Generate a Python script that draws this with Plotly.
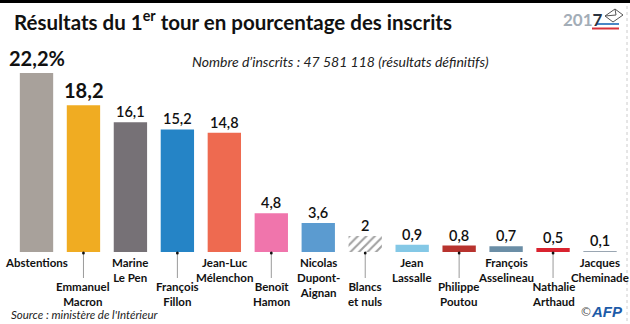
import plotly.graph_objects as go

# ---- data ----
candidates = ["Abstentions", "Emmanuel Macron", "Marine Le Pen", "François Fillon",
              "Jean-Luc Mélenchon", "Benoît Hamon", "Nicolas Dupont-Aignan",
              "Blancs et nuls", "Jean Lassalle", "Philippe Poutou",
              "François Asselineau", "Nathalie Arthaud", "Jacques Cheminade"]
label_lines = [["Abstentions"], ["Emmanuel", "Macron"], ["Marine", "Le Pen"],
               ["François", "Fillon"], ["Jean-Luc", "Mélenchon"], ["Benoît", "Hamon"],
               ["Nicolas", "Dupont-", "Aignan"], ["Blancs", "et nuls"], ["Jean", "Lassalle"],
               ["Philippe", "Poutou"], ["François", "Asselineau"], ["Nathalie", "Arthaud"],
               ["Jacques", "Cheminade"]]
values = [22.2, 18.2, 16.1, 15.2, 14.8, 4.8, 3.6, 2.0, 0.9, 0.8, 0.7, 0.5, 0.1]
value_labels = ["22,2%", "18,2", "16,1", "15,2", "14,8", "4,8", "3,6", "2",
                "0,9", "0,8", "0,7", "0,5", "0,1"]
colors = ["#a8a19b", "#f0ac22", "#767176", "#2584c6", "#ee6a50", "#f075ac", "#5b9bd0",
          "#ffffff", "#84c8e6", "#b8332e", "#6b8ea6", "#d9232f", "#9aa6b2"]
staggered = [False, True, False, True, False, True, False, True, False, True, False, True, False]

W, H = 630, 324
FONT = "Lato"

def py(p):
    return 1 - p / H

xs = list(range(len(values)))
patterns = ["/" if c == "Blancs et nuls" else "" for c in candidates]

fig = go.Figure()
fig.add_trace(go.Bar(
    x=xs, y=values, width=0.71,
    marker=dict(color=colors, line=dict(width=0),
                pattern=dict(shape=patterns, fgcolor="#a9b3bc", bgcolor="#ffffff",
                             size=6, solidity=0.35)),
    hoverinfo="skip",
))

ann = []
shapes = []

# value labels
for i, (v, lab) in enumerate(zip(values, value_labels)):
    big = i < 2
    ann.append(dict(x=i, y=v, xref="x", yref="y", text=lab, showarrow=False,
                    yanchor="bottom", yshift=1 if big else 0,
                    font=dict(family=FONT, size=20 if big else 14.5,
                              color="#111111", weight="bold" if big else 600)))

# category labels + leader lines
for i, lines in enumerate(label_lines):
    if staggered[i]:
        top = 278.5
        shapes.append(dict(type="line", xref="x", yref="paper", x0=i, x1=i,
                           y0=py(253), y1=py(278), line=dict(color="#9a9a9a", width=1)))
        shapes.append(dict(type="circle", xref="x", yref="paper",
                           x0=i - 0.03, x1=i + 0.03, y0=py(254.5), y1=py(251.5),
                           fillcolor="#111111", line=dict(width=0)))
    else:
        top = 255
    ann.append(dict(x=i, y=py(top), xref="x", yref="paper", text="<br>".join(lines),
                    showarrow=False, yanchor="top", borderpad=0,
                    font=dict(family=FONT, size=11.5, color="#111111", weight="bold")))

# title & subtitle
ann.append(dict(x=12 / W, y=py(20), xref="paper", yref="paper", xanchor="left",
                yanchor="middle", showarrow=False,
                text="Résultats du 1<sup style='font-size:70%'>er</sup> tour en pourcentage des inscrits",
                font=dict(family=FONT, size=20.5, color="#111111", weight="bold")))
ann.append(dict(x=340 / W, y=py(62), xref="paper", yref="paper", xanchor="center",
                yanchor="middle", showarrow=False,
                text="<i>Nombre d’inscrits : 47 581 118 (résultats définitifs)</i>",
                font=dict(family=FONT, size=14, color="#222222")))
ann.append(dict(x=10 / W, y=py(314.5), xref="paper", yref="paper", xanchor="left",
                yanchor="middle", showarrow=False, borderpad=0,
                text="<i>Source : ministère de l'Intérieur</i>",
                font=dict(family=FONT, size=11.5, color="#222222")))
# 2017 logo
ann.append(dict(x=561 / W, y=py(19), xref="paper", yref="paper", xanchor="left",
                yanchor="middle", showarrow=False,
                text="<span style='color:#a3adb7'>201</span><span style='color:#2b3440'>7</span>",
                font=dict(family=FONT, size=17, weight="bold")))
shapes.append(dict(type="line", xref="paper", yref="paper", x0=596 / W, x1=619 / W,
                   y0=py(24), y1=py(24), line=dict(color="#4a86c5", width=2)))
shapes.append(dict(type="line", xref="paper", yref="paper", x0=592 / W, x1=619 / W,
                   y0=py(28.5), y1=py(28.5), line=dict(color="#d9323a", width=2)))
env = [(605, 16), (615, 9), (623, 15), (613, 22)]
path = "M " + " L ".join(f"{x / W},{py(y)}" for x, y in env) + " Z"
shapes.append(dict(type="path", xref="paper", yref="paper", path=path,
                   line=dict(color="#555555", width=1)))
shapes.append(dict(type="path", xref="paper", yref="paper",
                   path=f"M {605 / W},{py(16)} L {616 / W},{py(15)} L {615 / W},{py(9)}",
                   line=dict(color="#555555", width=1)))
# AFP logo
ann.append(dict(x=578 / W, y=py(312), xref="paper", yref="paper", xanchor="left",
                yanchor="middle", showarrow=False, text="©",
                font=dict(family="DejaVu Sans", size=12, color="#555555")))
ann.append(dict(x=589 / W, y=py(311), xref="paper", yref="paper", xanchor="left",
                yanchor="middle", showarrow=False, text="<b><i>AFP</i></b>",
                font=dict(family="Liberation Sans", size=15, color="#1d5ba8")))

# top black bar and dotted right border
shapes.append(dict(type="rect", xref="paper", yref="paper", x0=0, x1=1,
                   y0=py(3), y1=1, fillcolor="#000000", line=dict(width=0)))
shapes.append(dict(type="line", xref="paper", yref="paper", x0=627 / W, x1=627 / W,
                   y0=py(6), y1=py(322), line=dict(color="#cccccc", width=1, dash="dot")))

px_per_unit = 8.06
center0 = 36.5
step = 46.96
fig.update_layout(
    width=W, height=H,
    margin=dict(l=0, r=0, t=0, b=0),
    paper_bgcolor="white", plot_bgcolor="white",
    showlegend=False,
    xaxis=dict(range=[-center0 / step, (W - center0) / step], visible=False, fixedrange=True),
    yaxis=dict(range=[-(H - 252) / px_per_unit, 252 / px_per_unit], visible=False,
               fixedrange=True),
    annotations=ann, shapes=shapes,
)
fig.write_html("out.html")
